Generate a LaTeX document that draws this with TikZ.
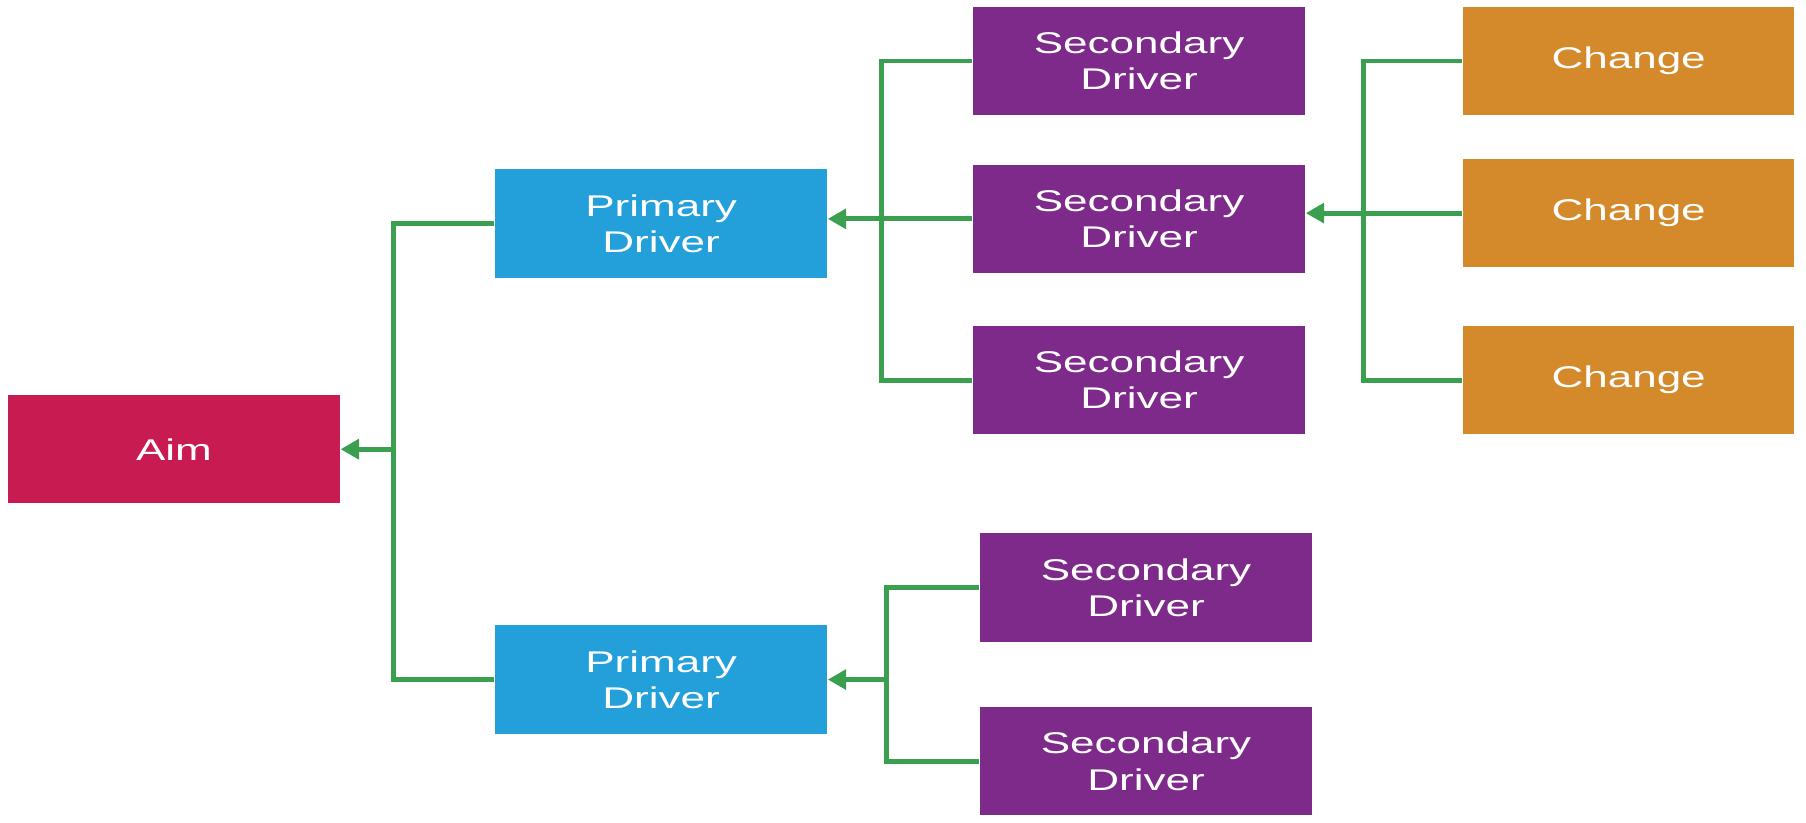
\documentclass[tikz,border=0pt]{standalone}
\usepackage{fontspec}
\setmainfont{Liberation Sans}[FakeStretch=1.47]
\usetikzlibrary{arrows.meta}
\definecolor{aimred}{HTML}{C81B52}
\definecolor{primblue}{HTML}{239FDA}
\definecolor{secpurple}{HTML}{7D2A8A}
\definecolor{chgorange}{HTML}{D4892A}
\definecolor{linkgreen}{HTML}{3A9F4F}

\begin{document}
\begin{tikzpicture}[x=0.1mm,y=-0.1mm,
		box/.style={rectangle,minimum width=28.8mm,minimum height=9.4mm,inner sep=0pt,
			text=white,align=center,font=\fontsize{7.4}{8.95}\selectfont},
		aimbox/.style={box,fill=aimred},
		primbox/.style={box,fill=primblue},
		secbox/.style={box,fill=secpurple},
		chgbox/.style={box,fill=chgorange},
		link/.style={linkgreen,line width=0.42mm},
		linkarrow/.style={link,-{Triangle[length=1.6mm,width=1.7mm]}}]
		\useasboundingbox (0,0) rectangle (1568,714);

		\node[aimbox] (aim) at (151,390) {Aim};
		\node[primbox] (prim1) at (574,194) {Primary\\Driver};
		\node[primbox] (prim2) at (574,590) {Primary\\Driver};

		\node[secbox] (sec1) at (989,53) {Secondary\\Driver};
		\node[secbox] (sec2) at (989,190) {Secondary\\Driver};
		\node[secbox] (sec3) at (989,330) {Secondary\\Driver};
		\node[secbox] (sec4) at (995,510) {Secondary\\Driver};
		\node[secbox] (sec5) at (995,661) {Secondary\\Driver};

		\node[chgbox] (chg1) at (1414,53) {Change};
		\node[chgbox] (chg2) at (1414,185) {Change};
		\node[chgbox] (chg3) at (1414,330) {Change};

		\coordinate (busA) at (342,390);
		\coordinate (busB) at (765,190);
		\coordinate (busC) at (1184,185);
		\coordinate (busD) at (770,590);

		\draw[link] (prim1.west) -| (busA) |- (prim2.west);
		\draw[linkarrow] (busA) -- (busA -| aim.east);

		\draw[link] (sec1.west) -| (busB) |- (sec3.west);
		\draw[linkarrow] (sec2.west) -- (sec2.west -| prim1.east);

		\draw[link] (chg1.west) -| (busC) |- (chg3.west);
		\draw[linkarrow] (chg2.west) -- (chg2.west -| sec2.east);

		\draw[link] (sec4.west) -| (busD) |- (sec5.west);
		\draw[linkarrow] (busD) -- (busD -| prim2.east);
	\end{tikzpicture}
\end{document}
